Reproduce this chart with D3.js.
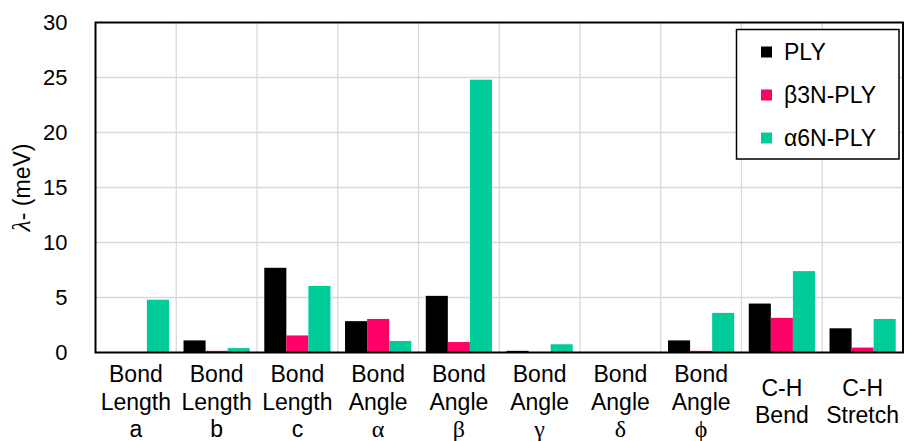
<!DOCTYPE html>
<html lang="en">
<head>
    <meta charset="UTF-8">
    <title>lambda chart</title>
    <script src="https://d3js.org/d3.v7.min.js"></script>
    <style>
        body { margin: 0; background: #fff; }
        text { font-family: "Liberation Sans", Arial, sans-serif; fill: #000; }
        .grid line { stroke: #d9d9d9; stroke-width: 1.3px; }
    </style>
</head>
<body>
    <svg width="904" height="441"></svg>
    <script>
        // categories (line1, line2, line3)
        const categories = ["a", "b", "c", "alpha", "beta", "gamma", "delta", "phi", "bend", "stretch"];
        const catLines = [
            ["Bond", "Length", "a"],
            ["Bond", "Length", "b"],
            ["Bond", "Length", "c"],
            ["Bond", "Angle", "α"],
            ["Bond", "Angle", "β"],
            ["Bond", "Angle", "γ"],
            ["Bond", "Angle", "δ"],
            ["Bond", "Angle", "ϕ"],
            ["C-H", "Bend"],
            ["C-H", "Stretch"]
        ];
        const seriesNames = ["PLY", "β3N-PLY", "α6N-PLY"];
        const seriesColors = ["#000000", "#ff0066", "#00cc99"];
        const ply = [0, 1.1, 7.7, 2.85, 5.15, 0.15, 0, 1.1, 4.45, 2.2];
        const b3n = [0, 0.15, 1.55, 3.05, 0.95, 0, 0, 0.15, 3.15, 0.45];
        const a6n = [4.8, 0.4, 6.05, 1.05, 24.8, 0.75, 0, 3.6, 7.4, 3.05];
        const yTicks = [0, 5, 10, 15, 20, 25, 30];

        const series = [ply, b3n, a6n];
        const svg = d3.select("svg");
        const pL = 95.5, pR = 903, pT = 22.5, pB = 352.5;

        const x = d3.scaleBand().domain(categories).range([pL, pR]).paddingInner(0).paddingOuter(0);
        const xs = d3.scaleBand().domain([0, 1, 2]).range([0, x.bandwidth()]).paddingOuter(0.33).paddingInner(0);
        const y = d3.scaleLinear().domain([0, 30]).range([pB, pT]);

        // grid
        const grid = svg.append("g").attr("class", "grid");
        grid.selectAll(".h").data(yTicks.slice(1, -1)).enter().append("line")
            .attr("x1", pL).attr("x2", pR)
            .attr("y1", d => y(d)).attr("y2", d => y(d));
        grid.selectAll(".v").data(categories.slice(1)).enter().append("line")
            .attr("x1", d => x(d)).attr("x2", d => x(d))
            .attr("y1", pT).attr("y2", pB);

        // bars
        series.forEach((vals, si) => {
            svg.append("g").selectAll("rect").data(vals).enter().append("rect")
                .attr("x", (d, i) => x(categories[i]) + xs(si))
                .attr("width", xs.bandwidth())
                .attr("y", d => y(d))
                .attr("height", d => pB - y(d))
                .attr("fill", seriesColors[si]);
        });

        // frame
        svg.append("rect").attr("x", pL).attr("y", pT)
            .attr("width", pR - pL).attr("height", pB - pT)
            .attr("fill", "none").attr("stroke", "#000").attr("stroke-width", 2);

        // y axis labels
        const yAxis = d3.axisLeft(y).tickValues(yTicks).tickSize(0).tickPadding(28);
        const ya = svg.append("g").attr("transform", `translate(${pL},0)`).call(yAxis);
        ya.select(".domain").remove();
        ya.selectAll("text").attr("font-size", 22).attr("font-family", "Liberation Sans, Arial, sans-serif").attr("fill", "#000");

        // y title
        const yt = svg.append("text")
            .attr("transform", `translate(30,${(pT + pB) / 2}) rotate(-90)`)
            .attr("text-anchor", "middle").attr("font-size", 23);
        yt.append("tspan").text("λ").attr("font-family", "Liberation Serif, serif").attr("font-style", "italic").attr("font-size", 26);
        yt.append("tspan").text("- (meV)");

        // category labels
        const cl = svg.append("g");
        catLines.forEach((lines, i) => {
            const cx = x(categories[i]) + x.bandwidth() / 2;
            const y0 = lines.length === 3 ? 382 : 395.5;
            const t = cl.append("text").attr("text-anchor", "middle").attr("font-size", 23);
            lines.forEach((s, j) => {
                const greek = /[α-ωϕ]/.test(s);
                t.append("tspan").attr("x", cx).attr("y", y0 + j * 27.5).text(s)
                    .attr("font-family", greek ? "Liberation Serif, serif" : null)
                    .attr("font-size", greek ? 24 : null);
            });
        });

        // legend
        const lg = svg.append("g");
        lg.append("rect").attr("x", 736.5).attr("y", 29.5).attr("width", 162.5).attr("height", 129.5)
            .attr("fill", "#fff").attr("stroke", "#000").attr("stroke-width", 1.5);
        seriesNames.forEach((name, i) => {
            const cy = 52 + i * 43;
            lg.append("rect").attr("x", 761).attr("y", cy - 5.5).attr("width", 11).attr("height", 11)
                .attr("fill", seriesColors[i]);
            lg.append("text").attr("x", 784).attr("y", cy + 8.3).attr("font-size", 23).text(name);
        });
    </script>
</body>
</html>
